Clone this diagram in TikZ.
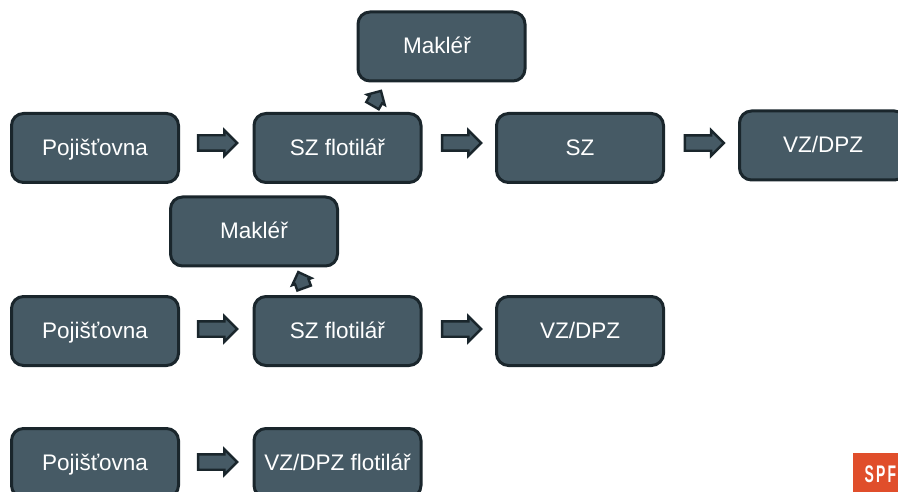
\documentclass[tikz,border=0pt]{standalone}
\usepackage{fontspec}
\setmainfont{Liberation Sans}
\usetikzlibrary{shapes.arrows}
\definecolor{boxfill}{HTML}{465A65}
\definecolor{boxline}{HTML}{1A262C}
\definecolor{logo}{HTML}{E04E2B}
\tikzset{
  stage/.style={draw=boxline,line width=3pt,fill=boxfill,rounded corners=12pt,
    minimum width=167pt,minimum height=69pt,inner sep=0pt,text=white,text height=16pt,text depth=1pt,
    font=\fontsize{22.5}{26}\selectfont},
  blockarrow/.style={single arrow,draw=boxline,line width=2.4pt,fill=boxfill,inner xsep=0pt,inner ysep=6.5pt,
    minimum height=39pt,single arrow head extend=5pt},
  shortarrow/.style={single arrow,draw=boxline,line width=2.4pt,fill=boxfill,inner xsep=0pt,inner ysep=6pt,
    minimum height=17pt,single arrow head extend=3pt}
}
\begin{document}
\begin{tikzpicture}[x=1pt,y=-1pt]
\useasboundingbox (0,0) rectangle (898,492);
\clip (0,0) rectangle (898,492);
% first row
\node[stage] (p1) at (95,148) {Pojišťovna};
\node[stage] (f1) at (337.5,148) {SZ flotilář};
\node[stage] (s1) at (580,148) {SZ};
\node[stage] (v1) at (823,145.5) {VZ/DPZ};
\node[stage] (m1) at (441.5,46.5) {Makléř\kern9pt\relax};
% second row
\node[stage] (m2) at (254,231.5) {Makléř};
\node[stage] (p2) at (95,331) {Pojišťovna};
\node[stage] (f2) at (337.5,331) {SZ flotilář};
\node[stage] (v2) at (580,331) {VZ/DPZ};
% third row
\node[stage] (p3) at (95,463) {Pojišťovna};
\node[stage] (v3) at (337.5,463) {VZ/DPZ flotilář};
% horizontal connectors
\path (p1.east) -- (f1.west) node[midway,xshift=-2.5pt,yshift=5pt,blockarrow] {};
\path (f1.east) -- (s1.west) node[midway,xshift=-1pt,yshift=5pt,blockarrow] {};
\path (s1.east) -- (v1.west) node[midway,xshift=-1pt,yshift=3.7pt,blockarrow] {};
\path (p2.east) -- (f2.west) node[midway,xshift=-2.5pt,yshift=2pt,blockarrow] {};
\path (f2.east) -- (v2.west) node[midway,xshift=-1pt,yshift=2pt,blockarrow] {};
\path (p3.east) -- (v3.west) node[midway,xshift=-2.5pt,yshift=1pt,blockarrow] {};
% upward connectors
\path (f1.north) -- (m1.south) node[pos=.36,shortarrow,rotate=60] {};
\path (f2.north) -- (m2.south) node[pos=.42,shortarrow,rotate=110] {};
% logo
\fill[logo] (853,453) rectangle (905,496);
\node[text=white,anchor=base west,inner sep=0pt,xscale=.58,
  font=\fontsize{24}{26}\selectfont\bfseries\addfontfeature{LetterSpace=16}] (logotext) at (864.5,482) {SPF};
\end{tikzpicture}
\end{document}
